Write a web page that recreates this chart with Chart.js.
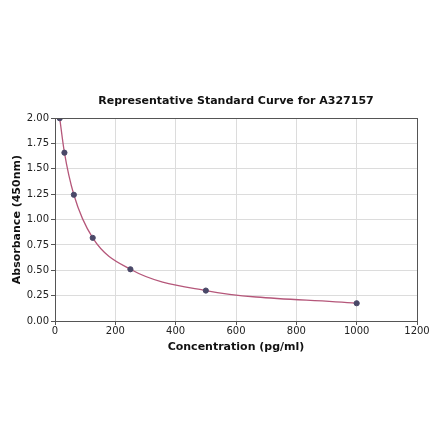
<!DOCTYPE html>
<html><head><meta charset="utf-8">
<script src="https://cdn.jsdelivr.net/npm/chart.js@4"></script>
<style>html,body{margin:0;padding:0;background:#fff}#wrap{width:440px;height:441px}</style>
</head><body><div id="wrap"><canvas id="c" width="440" height="441"></canvas></div>
<script>
const titleText = 'Representative Standard Curve for A327157';
const xLabel = 'Concentration (pg/ml)';
const yLabel = 'Absorbance (450nm)';
const concentrations = [15.6, 31.25, 62.5, 125, 250, 500, 1000];
const absorbance = [2.00, 1.66, 1.245, 0.82, 0.51, 0.30, 0.175];
const xTicks = [0, 200, 400, 600, 800, 1000, 1200];
const yTicks = [0, 0.25, 0.5, 0.75, 1.0, 1.25, 1.5, 1.75, 2.0];

const pts = concentrations.map((x, i) => ({x, y: absorbance[i]}));
const font = 'DejaVu Sans';
new Chart(document.getElementById('c'), {
  type: 'scatter',
  data: { datasets: [
    { type: 'line', data: pts, borderColor: '#b5577a', borderWidth: 1.3, pointRadius: 0,
      cubicInterpolationMode: 'monotone', fill: false, order: 2 },
    { data: pts, backgroundColor: '#4a4868', borderColor: '#4a4868', pointRadius: 2.6, order: 1 }
  ]},
  options: {
    responsive: false, animation: false, devicePixelRatio: 1,
    layout: { padding: { top: 0, right: 23, bottom: 0, left: 0 } },
    plugins: {
      legend: { display: false }, tooltip: { enabled: false },
      title: { display: true, text: titleText, color: '#111',
        font: { family: font, size: 11, weight: 'bold' }, padding: { top: 95, bottom: 10 } }
    },
    scales: {
      x: { type: 'linear', min: 0, max: 1200,
        afterBuildTicks: s => { s.ticks = xTicks.map(v => ({value: v})); },
        afterFit: s => { s.height = 120; },
        ticks: { color: '#222', font: { family: font, size: 10 }, padding: 0, maxRotation: 0,
          callback: v => String(v) },
        grid: { color: '#dcdcdc', tickColor: '#555', tickLength: 4 },
        border: { color: '#555', width: 1 },
        title: { display: true, text: xLabel, color: '#111', font: { family: font, size: 11, weight: 'bold' },
          padding: { top: 0, bottom: 87 } } },
      y: { min: 0, max: 2,
        afterBuildTicks: s => { s.ticks = yTicks.map(v => ({value: v})); },
        afterFit: s => { s.width = 55; },
        ticks: { color: '#222', font: { family: font, size: 10 }, padding: 2,
          callback: v => Number(v).toFixed(2) },
        grid: { color: '#dcdcdc', tickColor: '#555', tickLength: 4 },
        border: { color: '#555', width: 1 },
        title: { display: true, text: yLabel, color: '#111', font: { family: font, size: 11, weight: 'bold' },
          padding: { top: 11, bottom: 0 } } }
    }
  },
  plugins: [{ id: 'frame',
    afterLayout(c) { const t = c.titleBlock, a = c.chartArea; if (t) { t.left = a.left; t.right = a.right; t.width = a.right - a.left; } },
    afterDraw(c) { const a = c.chartArea, g = c.ctx; g.save(); g.strokeStyle = '#555'; g.lineWidth = 1;
    g.strokeRect(Math.round(a.left) + 0.5, Math.round(a.top) + 0.5, Math.round(a.right - a.left), Math.round(a.bottom - a.top)); g.restore(); } }]
});
</script></body></html>
